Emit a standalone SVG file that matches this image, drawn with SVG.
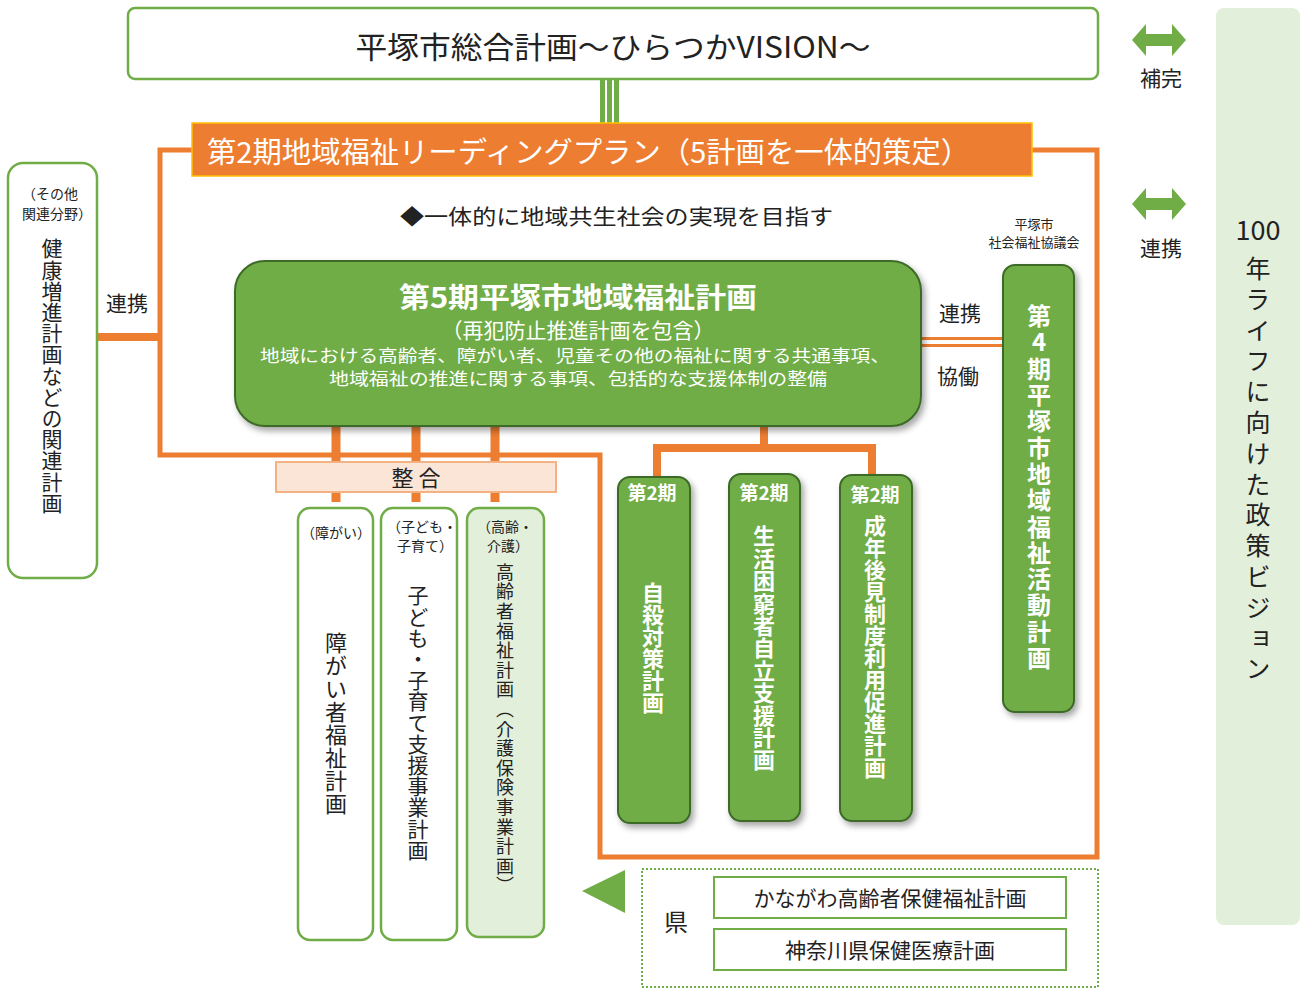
<svg xmlns="http://www.w3.org/2000/svg" width="1303" height="989" viewBox="0 0 1303 989">
<style>
text{font-family:"Noto Sans CJK JP","Noto Sans",sans-serif;fill:#222;}
.w{fill:#fff;}
.v{writing-mode:vertical-rl;}
.gbox{fill:#70ad47;stroke:#3d6b28;stroke-width:2;}
.wbox{fill:#fff;stroke:#70ad47;stroke-width:2.5;}
.or{stroke:#ed7d31;fill:none;}
</style>
<defs>
<filter id="sh" x="-10%" y="-10%" width="130%" height="130%">
<feDropShadow dx="3" dy="4" stdDeviation="3" flood-color="#000" flood-opacity="0.35"/>
</filter>
</defs>

<g id="connectors">
<rect x="600" y="79" width="19" height="45" fill="#70ad47"/>
<rect x="605" y="79" width="2" height="45" fill="#fff"/>
<rect x="612" y="79" width="2" height="45" fill="#fff"/>
<path class="or" stroke-width="5" d="M192,150 H160 V455 H600 V857 H1097 V150 H1032"/>
<path class="or" stroke-width="8" d="M97,337 H160"/>
<path class="or" stroke-width="3" d="M921,338.5 H1003 M921,345.5 H1003"/>
<path class="or" stroke-width="9" d="M336,426 V502 M416,426 V502 M495,426 V502"/>
<path class="or" stroke-width="8" d="M764,426 V448 M657,477 V448 H872 V477"/>
</g>

<g id="vision">
<rect x="128" y="8" width="970" height="71" rx="7" class="wbox"/>
<text x="613" y="58" font-size="30" text-anchor="middle" textLength="515" lengthAdjust="spacingAndGlyphs">平塚市総合計画～ひらつかVISION～</text>
</g>

<g id="leading-plan">
<rect x="192" y="123" width="840" height="53" fill="#ed7d31" stroke="#ffc000" stroke-width="1.5"/>
<text x="207" y="163" font-size="29" class="w" textLength="763" lengthAdjust="spacingAndGlyphs">第2期地域福祉リーディングプラン（5計画を一体的策定）</text>
</g>

<g id="goal">
<text x="400" y="224" font-size="21" textLength="433" lengthAdjust="spacingAndGlyphs">◆一体的に地域共生社会の実現を目指す</text>
</g>

<g id="other-fields">
<rect x="8" y="163" width="89" height="415" rx="15" class="wbox"/>
<text x="50" y="199" font-size="14" text-anchor="middle">（その他</text>
<text x="57" y="219" font-size="14" text-anchor="middle">関連分野）</text>
<text x="52" y="238" font-size="21" class="v" letter-spacing="0.2">健康増進計画などの関連計画</text>
<text x="106" y="311" font-size="21">連携</text>
</g>

<g id="main-plan">
<rect x="235" y="261" width="686" height="165" rx="30" class="gbox" filter="url(#sh)"/>
<text x="578" y="308" font-size="28" font-weight="bold" class="w" text-anchor="middle" textLength="358" lengthAdjust="spacingAndGlyphs">第5期平塚市地域福祉計画</text>
<text x="578" y="338" font-size="21" class="w" text-anchor="middle">（再犯防止推進計画を包含）</text>
<text x="575" y="362" font-size="17" class="w" text-anchor="middle" textLength="630" lengthAdjust="spacingAndGlyphs">地域における高齢者、障がい者、児童その他の福祉に関する共通事項、</text>
<text x="578" y="385" font-size="17" class="w" text-anchor="middle" textLength="498" lengthAdjust="spacingAndGlyphs">地域福祉の推進に関する事項、包括的な支援体制の整備</text>
</g>

<g id="labels-cooperation">
<text x="939" y="321" font-size="21">連携</text>
<text x="937" y="384" font-size="21">協働</text>
</g>

<g id="council-plan">
<text x="1034" y="229" font-size="13" text-anchor="middle">平塚市</text>
<text x="1034" y="247" font-size="13" text-anchor="middle">社会福祉協議会</text>
<rect x="1003" y="265" width="71" height="447" rx="12" class="gbox" filter="url(#sh)"/>
<text x="1039" y="304" font-size="24" font-weight="bold" class="w v" letter-spacing="2.3" style="text-orientation:upright">第4期平塚市地域福祉活動計画</text>
</g>

<g id="hokan">
<path d="M1132,40 L1146,24 V34 H1172 V24 L1186,40 L1172,56 V46 H1146 V56 Z" fill="#70ad47"/>
<text x="1161" y="86" font-size="21" text-anchor="middle">補完</text>
</g>
<g id="renkei">
<path d="M1132,204 L1146,188 V198 H1172 V188 L1186,204 L1172,220 V210 H1146 V220 Z" fill="#70ad47"/>
<text x="1161" y="256" font-size="21" text-anchor="middle">連携</text>
</g>

<g id="vision-100">
<rect x="1216" y="8" width="84" height="917" rx="8" fill="#e2efda"/>
<text x="1258" y="240" font-size="27" text-anchor="middle" font-family="'Noto Sans',sans-serif">100</text>
<text x="1258" y="256" font-size="25" class="v" letter-spacing="5.8">年ライフに向けた政策ビジョン</text>
</g>

<g id="seigo">
<rect x="276" y="462" width="280" height="30" fill="#fbe5d6" stroke="#f4b183" stroke-width="2"/>
<text x="416" y="486" font-size="22" text-anchor="middle">整 合</text>
</g>

<g id="disability">
<rect x="298" y="508" width="75" height="432" rx="12" class="wbox"/>
<text x="336" y="538" font-size="14" text-anchor="middle">（障がい）</text>
<text x="336" y="632" font-size="22" class="v" letter-spacing="1">障がい者福祉計画</text>
</g>

<g id="children">
<rect x="381" y="508" width="76" height="432" rx="12" class="wbox"/>
<text x="422" y="532" font-size="14" text-anchor="middle">（子ども・</text>
<text x="425" y="551" font-size="14" text-anchor="middle">子育て）</text>
<text x="418" y="585" font-size="21" class="v" letter-spacing="0.2">子ども・子育て支援事業計画</text>
</g>

<g id="elderly">
<rect x="467" y="508" width="77" height="429" rx="12" class="wbox" style="fill:#e2efda"/>
<text x="505" y="532" font-size="14" text-anchor="middle">（高齢・</text>
<text x="508" y="551" font-size="14" text-anchor="middle">介護）</text>
<text x="505" y="563" font-size="18" class="v" letter-spacing="1.6">高齢者福祉計画（介護保険事業計画）</text>
</g>

<g id="suicide">
<rect x="618" y="477" width="72" height="346" rx="12" class="gbox" filter="url(#sh)"/>
<text x="652" y="500" font-size="19" font-weight="bold" class="w" text-anchor="middle">第2期</text>
<text x="653" y="582" font-size="22" font-weight="bold" class="w v">自殺対策計画</text>
</g>

<g id="poverty">
<rect x="729" y="474" width="71" height="347" rx="12" class="gbox" filter="url(#sh)"/>
<text x="764" y="500" font-size="19" font-weight="bold" class="w" text-anchor="middle">第2期</text>
<text x="764" y="525" font-size="22" font-weight="bold" class="w v" letter-spacing="0.4">生活困窮者自立支援計画</text>
</g>

<g id="guardianship">
<rect x="840" y="475" width="72" height="346" rx="12" class="gbox" filter="url(#sh)"/>
<text x="875" y="502" font-size="19" font-weight="bold" class="w" text-anchor="middle">第2期</text>
<text x="875" y="515" font-size="22" font-weight="bold" class="w v">成年後見制度利用促進計画</text>
</g>

<g id="prefecture">
<path d="M582,891 L625,870 V913 Z" fill="#70ad47"/>
<rect x="642" y="869" width="456" height="118" fill="none" stroke="#70ad47" stroke-width="2" stroke-dasharray="2,2"/>
<text x="676" y="931" font-size="24" text-anchor="middle">県</text>
<rect x="714" y="877" width="352" height="41" fill="#fff" stroke="#70ad47" stroke-width="2"/>
<text x="890" y="906" font-size="21" text-anchor="middle">かながわ高齢者保健福祉計画</text>
<rect x="714" y="929" width="352" height="41" fill="#fff" stroke="#70ad47" stroke-width="2"/>
<text x="890" y="958" font-size="21" text-anchor="middle">神奈川県保健医療計画</text>
</g>
</svg>
